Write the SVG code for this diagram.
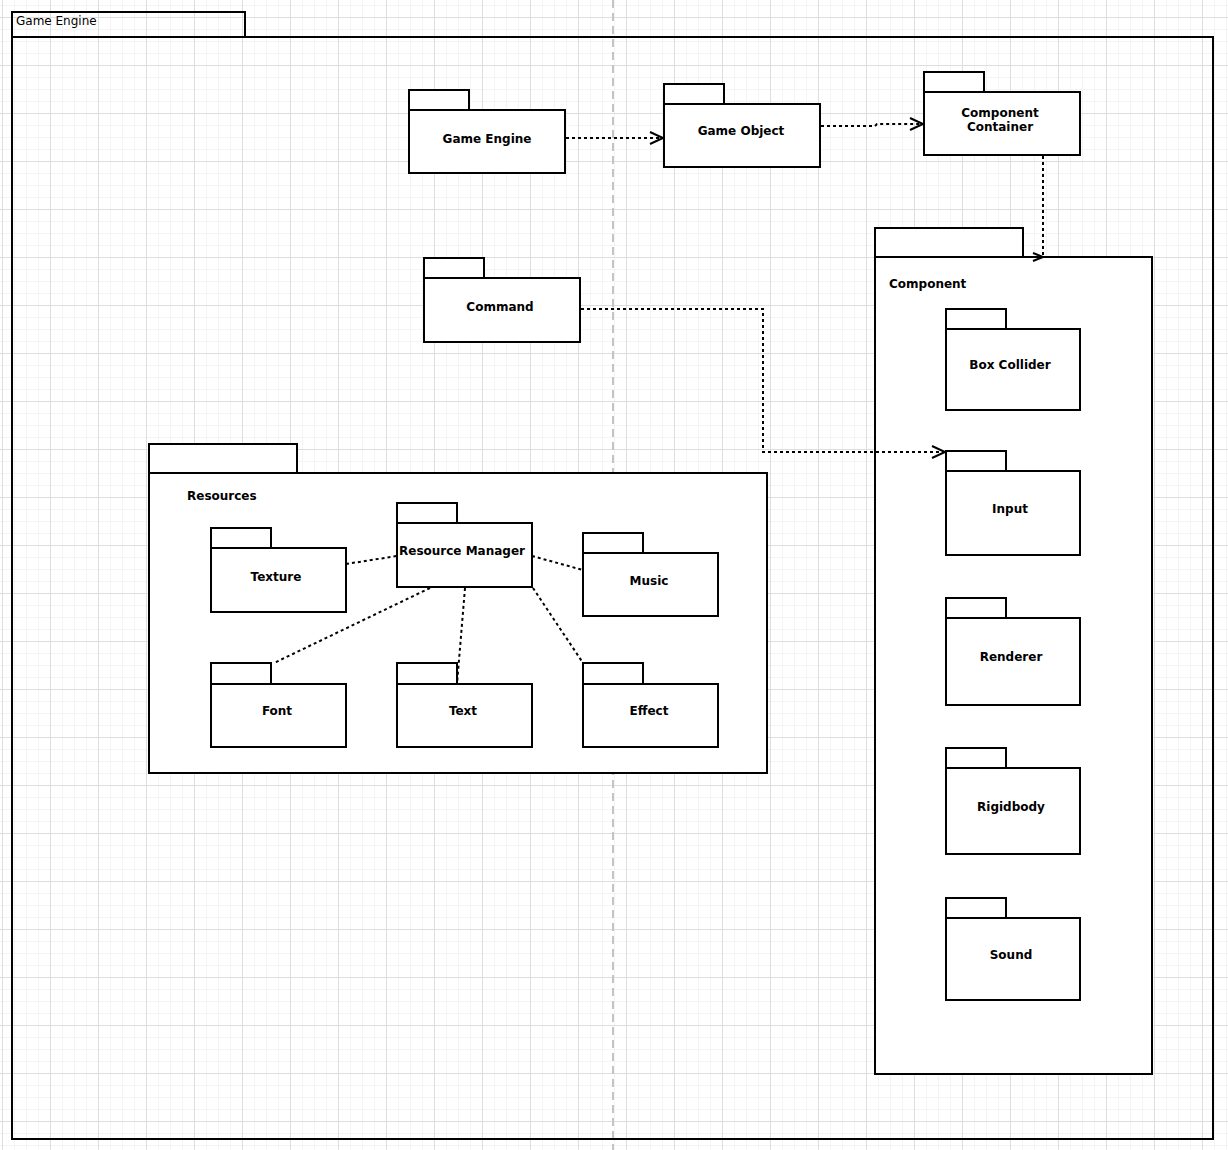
<svg xmlns="http://www.w3.org/2000/svg" width="1228" height="1150" viewBox="0 0 1228 1150">
<style>
.pk{fill:#fff;stroke:#000;stroke-width:2}
.frame{fill:none;stroke:#000;stroke-width:2}
.lbl{font-family:"DejaVu Sans",Verdana,sans-serif;font-size:12px;font-weight:bold;fill:#000;text-anchor:middle;dominant-baseline:central}
.lbll{font-family:"DejaVu Sans",Verdana,sans-serif;font-size:12px;font-weight:bold;fill:#000;dominant-baseline:central}
.edge{fill:none;stroke:#000;stroke-width:2;stroke-dasharray:3 3}
.head{fill:none;stroke:#000;stroke-width:2}
</style>
<defs>
<pattern id="grid" patternUnits="userSpaceOnUse" x="2" y="17" width="48" height="48">
<path d="M12.5,0V48M24.5,0V48M36.5,0V48M0,12.5H48M0,24.5H48M0,36.5H48" stroke="#f4f4f4" stroke-width="1" fill="none"/>
<path d="M0.5,0V48M0,0.5H48" stroke="#dedede" stroke-width="1" fill="none"/>
</pattern>
<marker id="arr" markerUnits="userSpaceOnUse" markerWidth="16" markerHeight="16" refX="13" refY="7" orient="auto" overflow="visible">
<path d="M0,1 L13,7 L0,13" class="head"/>
</marker>
<marker id="arr0" markerUnits="userSpaceOnUse" markerWidth="16" markerHeight="16" refX="10" refY="5" orient="0" overflow="visible">
<path d="M0,1 L10,5 L0,9" class="head"/>
</marker>
</defs>
<rect x="0" y="0" width="1228" height="1150" fill="#fff"/>
<rect x="0" y="0" width="1228" height="1150" fill="url(#grid)"/>
<line x1="613" y1="0" x2="613" y2="1150" stroke="#c4c4c4" stroke-width="2" stroke-dasharray="8 5"/>

<g id="game-engine-frame">
<rect class="frame" x="12" y="12" width="233" height="25"/>
<rect class="frame" x="12" y="37" width="1201" height="1102"/>
<text x="16" y="21" font-family="'DejaVu Sans',Verdana,sans-serif" font-size="12" dominant-baseline="central">Game Engine</text>
</g>

<g id="node-game-engine">
<rect class="pk" x="409" y="90" width="60" height="20"/>
<rect class="pk" x="409" y="110" width="156" height="63"/>
<text class="lbl" x="487" y="139">Game Engine</text>
</g>
<g id="node-game-object">
<rect class="pk" x="664" y="84" width="60" height="20"/>
<rect class="pk" x="664" y="104" width="156" height="63"/>
<text class="lbl" x="741" y="131">Game Object</text>
</g>
<g id="node-component-container">
<rect class="pk" x="924" y="72" width="60" height="20"/>
<rect class="pk" x="924" y="92" width="156" height="63"/>
<text class="lbl" x="1000" y="113">Component</text>
<text class="lbl" x="1000" y="127">Container</text>
</g>
<g id="node-command">
<rect class="pk" x="424" y="258" width="60" height="20"/>
<rect class="pk" x="424" y="278" width="156" height="64"/>
<text class="lbl" x="500" y="307">Command</text>
</g>

<g id="node-component">
<rect class="pk" x="875" y="228" width="148" height="29"/>
<rect class="pk" x="875" y="257" width="277" height="817"/>
<text class="lbll" x="889" y="284">Component</text>
</g>
<g id="node-box-collider">
<rect class="pk" x="946" y="309" width="60" height="20"/>
<rect class="pk" x="946" y="329" width="134" height="81"/>
<text class="lbl" x="1010" y="365">Box Collider</text>
</g>
<g id="node-input">
<rect class="pk" x="946" y="451" width="60" height="20"/>
<rect class="pk" x="946" y="471" width="134" height="84"/>
<text class="lbl" x="1010" y="509">Input</text>
</g>
<g id="node-renderer">
<rect class="pk" x="946" y="598" width="60" height="20"/>
<rect class="pk" x="946" y="618" width="134" height="87"/>
<text class="lbl" x="1011" y="657">Renderer</text>
</g>
<g id="node-rigidbody">
<rect class="pk" x="946" y="748" width="60" height="20"/>
<rect class="pk" x="946" y="768" width="134" height="86"/>
<text class="lbl" x="1011" y="807">Rigidbody</text>
</g>
<g id="node-sound">
<rect class="pk" x="946" y="898" width="60" height="20"/>
<rect class="pk" x="946" y="918" width="134" height="82"/>
<text class="lbl" x="1011" y="955">Sound</text>
</g>

<g id="node-resources">
<rect class="pk" x="149" y="444" width="148" height="29"/>
<rect class="pk" x="149" y="473" width="618" height="300"/>
<text class="lbll" x="187" y="496">Resources</text>
</g>
<g id="node-texture">
<rect class="pk" x="211" y="528" width="60" height="20"/>
<rect class="pk" x="211" y="548" width="135" height="64"/>
<text class="lbl" x="276" y="577">Texture</text>
</g>
<g id="node-resource-manager">
<rect class="pk" x="397" y="503" width="60" height="20"/>
<rect class="pk" x="397" y="523" width="135" height="64"/>
<text class="lbl" x="462" y="551">Resource Manager</text>
</g>
<g id="node-music">
<rect class="pk" x="583" y="533" width="60" height="20"/>
<rect class="pk" x="583" y="553" width="135" height="63"/>
<text class="lbl" x="649" y="581">Music</text>
</g>
<g id="node-font">
<rect class="pk" x="211" y="663" width="60" height="21"/>
<rect class="pk" x="211" y="684" width="135" height="63"/>
<text class="lbl" x="277" y="711">Font</text>
</g>
<g id="node-text">
<rect class="pk" x="397" y="663" width="60" height="21"/>
<rect class="pk" x="397" y="684" width="135" height="63"/>
<text class="lbl" x="463" y="711">Text</text>
</g>
<g id="node-effect">
<rect class="pk" x="583" y="663" width="60" height="21"/>
<rect class="pk" x="583" y="684" width="135" height="63"/>
<text class="lbl" x="649" y="711">Effect</text>
</g>

<g id="connectors">
<path class="edge" d="M566,138 L663,138" marker-end="url(#arr)"/>
<path class="edge" d="M821,126 L875,126 L877,124 L923,124" marker-end="url(#arr)"/>
<path class="edge" d="M1043,156 L1043,257" marker-end="url(#arr0)"/>
<path class="edge" d="M581,309 L763,309 L763,452 L945,452" marker-end="url(#arr)"/>
<path class="edge" d="M346,564 L397,556"/>
<path class="edge" d="M532,556 L583,570"/>
<path class="edge" d="M430,588 L274,663"/>
<path class="edge" d="M465,588 L457,684"/>
<path class="edge" d="M533,588 L583,663"/>
</g>
</svg>
